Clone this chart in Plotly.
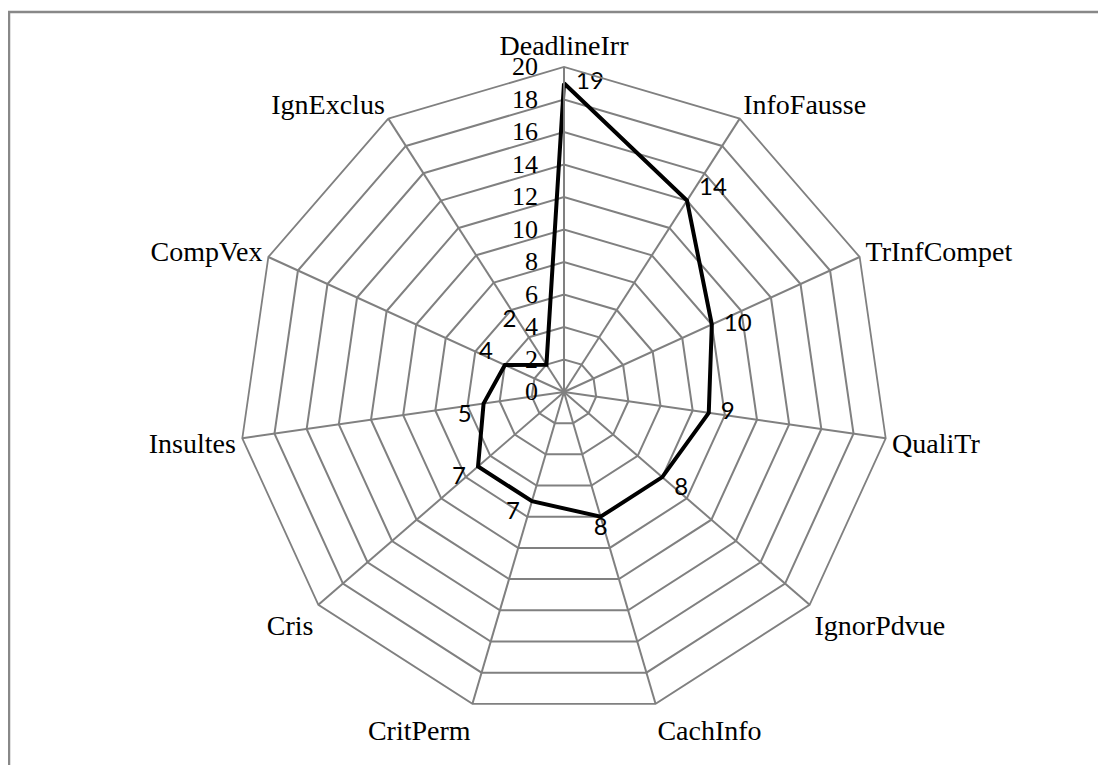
import plotly.graph_objects as go

categories = ["DeadlineIrr", "InfoFausse", "TrInfCompet", "QualiTr", "IgnorPdvue",
              "CachInfo", "CritPerm", "Cris", "Insultes", "CompVex", "IgnExclus"]
values = [19, 14, 10, 9, 8, 8, 7, 7, 5, 4, 2]
radial_ticks = list(range(0, 21, 2))

label_pos = ["middle right", "top right", "middle right", "middle right", "bottom right",
             "bottom center", "bottom left", "bottom left", "bottom left", "top left", "top left"]

W, H = 1098, 757
cx, cy, R = 556, 384, 325


def label_text(v, pos, i):
    s = str(v)
    if "right" in pos:
        s = "\u2002" + s
    elif "left" in pos:
        s = s + "\u2002"
    if i == len(values) - 1:
        s = str(v) + "\u2003\u2002<br> "
    return s


fig = go.Figure()
fig.add_trace(go.Scatterpolar(
    r=values + [values[0]],
    theta=categories + [categories[0]],
    mode="lines",
    line=dict(color="black", width=4),
    hoverinfo="skip",
    showlegend=False,
))
fig.add_trace(go.Scatterpolar(
    r=values,
    theta=categories,
    mode="text",
    text=[label_text(v, p, i) for i, (v, p) in enumerate(zip(values, label_pos))],
    textposition=label_pos,
    textfont=dict(family="Lato, Open Sans, sans-serif", size=24, color="black"),
    hoverinfo="skip",
    showlegend=False,
))

fig.update_layout(
    width=W, height=H,
    margin=dict(l=0, r=0, t=0, b=0),
    paper_bgcolor="white",
    plot_bgcolor="white",
    polar=dict(
        domain=dict(x=[(cx - R) / W, (cx + R) / W], y=[(H - cy - R) / H, (H - cy + R) / H]),
        bgcolor="white",
        gridshape="linear",
        angularaxis=dict(
            rotation=90, direction="clockwise",
            categoryorder="array", categoryarray=categories,
            showline=True, linecolor="#808080", linewidth=1.8,
            gridcolor="#808080", gridwidth=1.8,
            ticks="",
            tickfont=dict(family="Liberation Serif, Times New Roman, serif", size=28, color="black"),
        ),
        radialaxis=dict(
            range=[0, 20], tickvals=radial_ticks, ticktext=[str(t) for t in radial_ticks],
            angle=90, side="counterclockwise", tickangle=90,
            showline=True, linecolor="#808080", linewidth=1.8,
            gridcolor="#808080", gridwidth=1.8,
            ticks="outside", ticklen=16, tickcolor="rgba(0,0,0,0)",
            tickfont=dict(family="Liberation Serif, Times New Roman, serif", size=26, color="black"),
        ),
    ),
    shapes=[dict(type="rect", xref="paper", yref="paper",
                 x0=1 / W, x1=1097 / W, y0=-0.2, y1=(H - 4) / H,
                 line=dict(color="#888888", width=2.5), layer="below")],
)

fig.write_html("out.html")
